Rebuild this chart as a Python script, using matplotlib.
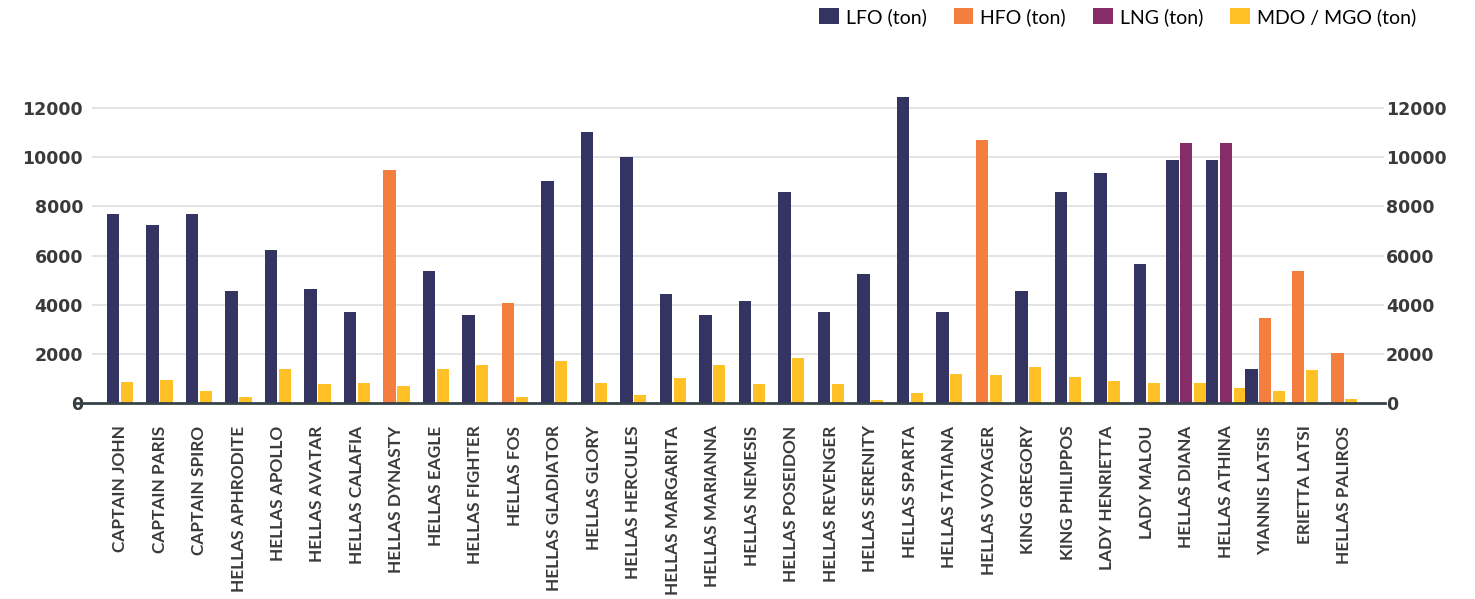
import matplotlib
matplotlib.use("Agg")
import matplotlib.pyplot as plt
from matplotlib.patches import Patch

ships = ["CAPTAIN JOHN", "CAPTAIN PARIS", "CAPTAIN SPIRO", "HELLAS APHRODITE",
         "HELLAS APOLLO", "HELLAS AVATAR", "HELLAS CALAFIA", "HELLAS DYNASTY",
         "HELLAS EAGLE", "HELLAS FIGHTER", "HELLAS FOS", "HELLAS GLADIATOR",
         "HELLAS GLORY", "HELLAS HERCULES", "HELLAS MARGARITA", "HELLAS MARIANNA",
         "HELLAS NEMESIS", "HELLAS POSEIDON", "HELLAS REVENGER", "HELLAS SERENITY",
         "HELLAS SPARTA", "HELLAS TATIANA", "HELLAS VOYAGER", "KING GREGORY",
         "KING PHILIPPOS", "LADY HENRIETTA", "LADY MALOU", "HELLAS DIANA",
         "HELLAS ATHINA", "YIANNIS LATSIS", "ERIETTA LATSI", "HELLAS PALIROS"]

lfo = [7700, 7250, 7700, 4570, 6230, 4650, 3710, 0,
       5380, 3590, 0, 9040, 11030, 10010, 4440, 3590,
       4160, 8590, 3710, 5260, 12460, 3710, 0, 4570,
       8590, 9360, 5660, 9890, 9890, 1400, 0, 0]
hfo = [0, 0, 0, 0, 0, 0, 0, 9480,
       0, 0, 4080, 0, 0, 0, 0, 0,
       0, 0, 0, 0, 0, 0, 10700, 0,
       0, 0, 0, 0, 0, 3470, 5380, 2040]
lng = [0, 0, 0, 0, 0, 0, 0, 0,
       0, 0, 0, 0, 0, 0, 0, 0,
       0, 0, 0, 0, 0, 0, 0, 0,
       0, 0, 0, 10580, 10580, 0, 0, 0]
mdo = [870, 950, 500, 260, 1400, 790, 830, 700,
       1400, 1560, 260, 1720, 830, 340, 1030, 1560,
       790, 1840, 790, 130, 420, 1190, 1150, 1480,
       1070, 910, 830, 830, 620, 500, 1350, 170]

series_names = ["LFO (ton)", "HFO (ton)", "LNG (ton)", "MDO / MGO (ton)"]
series_vals = [lfo, hfo, lng, mdo]
colors = ["#343462", "#F47E3E", "#862D68", "#FFC125"]
yticks = [0, 2000, 4000, 6000, 8000, 10000, 12000]

W, H = 1475, 599
fig = plt.figure(figsize=(W / 100, H / 100), dpi=100)
ax = fig.add_axes([75 / W, (H - 403.3) / H, 1310 / W, (403.3 - 93.3) / H])

bw, step = 0.31, 0.35
for i in range(len(ships)):
    present = [(k, s[i]) for k, s in enumerate(series_vals) if s[i] > 0]
    n = len(present)
    for j, (k, v) in enumerate(present):
        ax.bar(i + (j - (n - 1) / 2) * step, v, width=bw, color=colors[k],
               edgecolor="none", zorder=3)

ax.set_xlim(-1.14, 32.03)
ax.set_ylim(0, 12600)

# gridlines
ax.hlines(yticks[1:], -0.71, 32.0, colors="#e2e2e2", linewidth=1.3, zorder=1)

for s in ["top", "left", "right"]:
    ax.spines[s].set_visible(False)
ax.spines["bottom"].set_color("#37424a")
ax.spines["bottom"].set_linewidth(2.0)
ax.spines["bottom"].set_zorder(4)

ax.set_xticks(range(len(ships)))
ax.set_xticklabels(ships, rotation=90, ha="center", va="top",
                   fontfamily="Lato", fontweight="bold", fontsize=12.4,
                   color="#3b3b3b")
ax.tick_params(axis="x", length=0, pad=16)

ax.set_yticks(yticks)
ax.set_yticklabels([str(v) for v in yticks], fontfamily="DejaVu Sans",
                   fontweight="bold", fontsize=12.5, color="#3a3a3a")
ax.tick_params(axis="y", length=0, pad=-5.8)

ax2 = ax.twinx()
ax2.set_ylim(ax.get_ylim())
ax2.set_yticks(yticks)
ax2.set_yticklabels([str(v) for v in yticks], fontfamily="DejaVu Sans",
                    fontweight="bold", fontsize=12.5, color="#3a3a3a")
ax2.tick_params(axis="y", length=0, pad=0.7)
for s in ["top", "left", "right", "bottom"]:
    ax2.spines[s].set_visible(False)

handles = [Patch(facecolor=c, edgecolor="none") for c in colors]
fig.legend(handles, series_names, loc="upper right",
           bbox_to_anchor=(1416 / W, 1 - 8.0 / H), ncol=4, frameon=False,
           prop={"family": "Lato", "size": 14},
           handlelength=1.0, handleheight=0.9, handletextpad=0.36,
           columnspacing=1.4, borderpad=0, borderaxespad=0)

fig.savefig("out.png", dpi=100)
